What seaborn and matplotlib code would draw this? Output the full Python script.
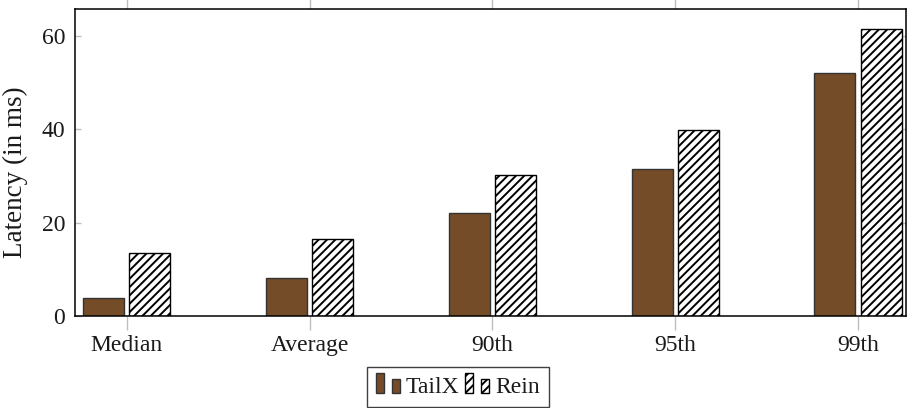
import matplotlib
matplotlib.use("Agg")
import matplotlib.pyplot as plt
import seaborn as sns
import pandas as pd
from matplotlib.patches import Rectangle
from matplotlib.legend_handler import HandlerBase

# Latency percentiles (ms) for both systems
categories = ["Median", "Average", "90th", "95th", "99th"]
tailx_ms = [3.9, 8.2, 22.1, 31.4, 52.0]
rein_ms = [13.6, 16.4, 30.3, 39.8, 61.6]
systems = ["TailX", "Rein"]
y_ticks = [0, 20, 40, 60]

BROWN = "#744D28"
FS = 17
HATCH = "////"

df = pd.DataFrame({
    "metric": categories * 2,
    "latency": tailx_ms + rein_ms,
    "system": [systems[0]] * len(categories) + [systems[1]] * len(categories),
})

sns.set_theme(style="white")
plt.rcParams["font.family"] = ["Liberation Serif", "DejaVu Serif"]
plt.rcParams["hatch.linewidth"] = 1.4

fig = plt.figure(figsize=(9.1, 4.08), dpi=100)
ax = fig.add_axes([75 / 910, 92 / 408, 831 / 910, 307 / 408])

sns.barplot(
    data=df, x="metric", y="latency", hue="system",
    order=categories, hue_order=systems,
    palette={"TailX": BROWN, "Rein": "white"}, saturation=1,
    width=0.506, gap=0.115, edgecolor="0.2", linewidth=1.0,
    legend=False, ax=ax,
)

# Hatch the second series
for bar in ax.containers[1]:
    bar.set_hatch(HATCH)
    bar.set_edgecolor("black")

ax.set_xlim(-0.283, 4.262)
ax.set_ylim(0, 65.8)
ax.set_yticks(y_ticks)
ax.set_xlabel("")
ax.set_ylabel("Latency (in ms)", fontsize=19.5, color="0.1")
ax.yaxis.set_label_coords(-0.057, 0.47)

for side in ["left", "right", "top", "bottom"]:
    ax.spines[side].set_visible(True)
    ax.spines[side].set_color("black")
    ax.spines[side].set_linewidth(1.1)

ax.tick_params(axis="y", direction="in", length=4, width=1, color="0.75",
               left=True, right=True, labelsize=FS, labelcolor="0.1", pad=7)
ax.tick_params(axis="x", direction="out", length=10, width=1, color="0.75",
               bottom=True, top=True, labelsize=FS, labelcolor="0.1", pad=4)


class PairedBarHandler(HandlerBase):
    """Legend glyph made of two small bars, tall then short."""

    def create_artists(self, legend, orig_handle, xdescent, ydescent,
                       width, height, fontsize, trans):
        bw = width / 3.0
        x0, y0 = -xdescent, -ydescent
        props = dict(facecolor=orig_handle.get_facecolor(),
                     edgecolor=orig_handle.get_edgecolor(),
                     hatch=orig_handle.get_hatch(),
                     linewidth=orig_handle.get_linewidth(),
                     transform=trans)
        tall = Rectangle((x0, y0), bw, fontsize * 0.85, **props)
        short = Rectangle((x0 + width - bw, y0), bw, fontsize * 0.6, **props)
        return [tall, short]


handles = [
    Rectangle((0, 0), 1, 1, facecolor=BROWN, edgecolor="0.2", linewidth=1.0),
    Rectangle((0, 0), 1, 1, facecolor="white", edgecolor="black",
              hatch=HATCH, linewidth=1.0),
]
leg = fig.legend(
    handles, systems, handler_map={Rectangle: PairedBarHandler()},
    loc="upper left", bbox_to_anchor=(366.7 / 910, 1 - 367 / 408),
    ncol=2, frameon=True, fancybox=False, edgecolor="0.25", framealpha=1,
    handlelength=1.0, handletextpad=0.26, columnspacing=0.25,
    borderpad=0.4, borderaxespad=0, fontsize=17,
)
for t in leg.get_texts():
    t.set_color("0.1")

fig.savefig("out.png", dpi=100)
